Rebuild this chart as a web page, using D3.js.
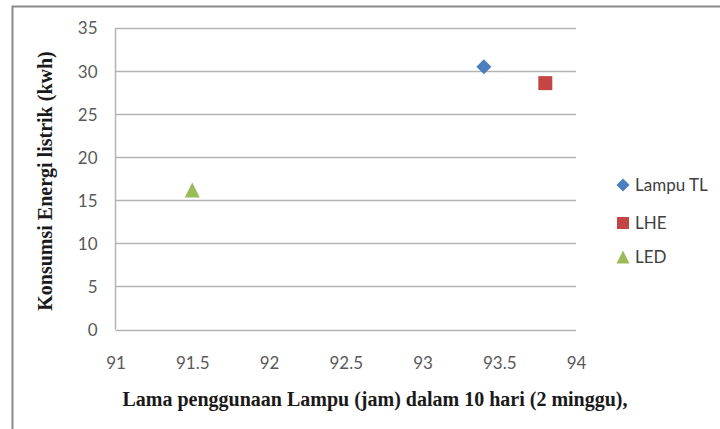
<!DOCTYPE html>
<html><head><meta charset="utf-8">
<script src="https://cdn.jsdelivr.net/npm/d3@7"></script>
<style>body{margin:0;background:#fff}svg{display:block}</style>
</head><body>
<script>
const seriesNames = ["Lampu TL", "LHE", "LED"];
const xValues = [93.4, 93.8, 91.5];
const yValues = [30.5, 28.6, 16.2];
const colors = ["#4a7ebf", "#c44545", "#9bbb59"];
const xTicks = [91, 91.5, 92, 92.5, 93, 93.5, 94];
const yTicks = [0, 5, 10, 15, 20, 25, 30, 35];
const xTitle = "Lama penggunaan Lampu (jam) dalam 10 hari (2 minggu),";
const yTitle = "Konsumsi Energi listrik (kwh)";

function marker(kind, r) {
  if (kind === 0) return `M0,${-r}L${r},0L0,${r}L${-r},0Z`;
  if (kind === 1) return `M${-r},${-r}H${r}V${r}H${-r}Z`;
  return `M0,${-r}L${r},${r}H${-r}Z`;
}

const W = 720, H = 429;
const svg = d3.select("body").append("svg").attr("width", W).attr("height", H);
svg.append("path").attr("d", "M12.5,429 V6.5 H720").attr("fill", "none").attr("stroke", "#8a8a8a").attr("stroke-width", 2);

const x = d3.scaleLinear().domain([91, 94]).range([115.5, 576]);
const y = d3.scaleLinear().domain([0, 35]).range([329.5, 28]);
const tickFont = "Lato, 'Open Sans', sans-serif";
const serif = "'Liberation Serif', 'DejaVu Serif', serif";

svg.append("g").selectAll("line").data(yTicks).join("line")
  .attr("x1", x(91)).attr("x2", x(94)).attr("y1", d => Math.round(y(d)) + 0.5).attr("y2", d => Math.round(y(d)) + 0.5)
  .attr("stroke", "#b3b3b3").attr("stroke-width", 1.5);
svg.append("line").attr("x1", x(91)).attr("x2", x(91)).attr("y1", y(35)).attr("y2", y(0))
  .attr("stroke", "#b3b3b3").attr("stroke-width", 1.5);

const yAxis = svg.append("g").attr("transform", `translate(${x(91)},0)`)
  .call(d3.axisLeft(y).tickValues(yTicks).tickSize(0).tickPadding(18));
yAxis.select(".domain").remove();
yAxis.selectAll("text").attr("font-family", tickFont).attr("font-size", 17).attr("fill", "#595959").attr("dy", "0.35em");

const xAxis = svg.append("g").attr("transform", `translate(0,${y(0)})`)
  .call(d3.axisBottom(x).tickValues(xTicks).tickFormat(d3.format("")).tickSize(0).tickPadding(27));
xAxis.select(".domain").remove();
xAxis.selectAll("text").attr("font-family", tickFont).attr("font-size", 17).attr("fill", "#595959");

svg.append("g").selectAll("path").data(seriesNames).join("path")
  .attr("transform", (d, i) => `translate(${x(xValues[i])},${y(yValues[i])})`)
  .attr("d", (d, i) => marker(i, [7.5, 7, 7.5][i]))
  .attr("fill", (d, i) => colors[i]);

const lg = svg.append("g");
const legY = [185, 223, 257];
seriesNames.forEach((n, i) => {
  lg.append("path").attr("transform", `translate(623,${legY[i]})`)
    .attr("d", marker(i, [6.5, 6, 6.5][i])).attr("fill", colors[i]);
  lg.append("text").attr("x", 635).attr("y", legY[i]).attr("dy", "0.36em")
    .attr("font-family", tickFont).attr("font-size", 17).attr("fill", "#404040").text(n);
});

svg.append("text").attr("x", 375).attr("y", 406).attr("text-anchor", "middle")
  .attr("font-family", serif).attr("font-weight", "bold").attr("font-size", 20)
  .attr("fill", "#1a1a1a").text(xTitle);
svg.append("text").attr("transform", "translate(52,181) rotate(-90)").attr("text-anchor", "middle")
  .attr("font-family", serif).attr("font-weight", "bold").attr("font-size", 20)
  .attr("fill", "#1a1a1a").text(yTitle);
</script>
</body></html>
